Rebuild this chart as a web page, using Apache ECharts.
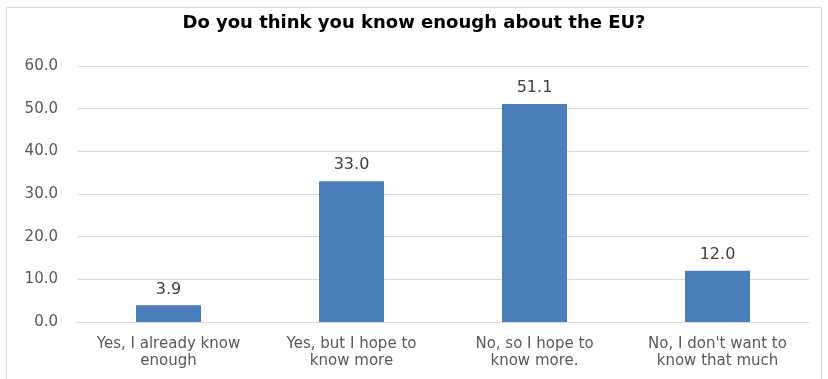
<!DOCTYPE html>
<html><head><meta charset="utf-8">
<script src="https://cdn.jsdelivr.net/npm/echarts@6/dist/echarts.min.js"></script>
<style>html,body{margin:0;padding:0;background:#fff}#c{width:828px;height:379px}</style>
</head><body><div id="c"></div>
<script>
const titleText = "Do you think you know enough about the EU?";
const categories = ["Yes, I already know\nenough", "Yes, but I hope to\nknow more", "No, so I hope to\nknow more.", "No, I don't want to\nknow that much"];
const values = [3.9, 33.0, 51.1, 12.0];
const yMin = 0, yMax = 60, yStep = 10;

const chart = echarts.init(document.getElementById('c'), null, {renderer: 'canvas'});
const font = "'DejaVu Sans', sans-serif";
chart.setOption({
  animation: false,
  graphic: [{type: 'rect', shape: {x: 6.5, y: 7.5, width: 815, height: 380}, style: {fill: 'none', stroke: '#d9d9d9', lineWidth: 1}}],
  title: {text: titleText, left: 'center', top: 9, textStyle: {fontFamily: font, fontSize: 18, fontWeight: 'bold', color: '#000'}},
  grid: {left: 77, right: 19, top: 66, bottom: 57},
  xAxis: {type: 'category', data: categories,
    axisLine: {lineStyle: {color: '#d9d9d9'}}, axisTick: {show: false},
    axisLabel: {fontFamily: font, fontSize: 15, color: '#595959', lineHeight: 17, margin: 14, interval: 0}},
  yAxis: {type: 'value', min: yMin, max: yMax, interval: yStep,
    axisLine: {show: false}, axisTick: {show: false},
    splitLine: {lineStyle: {color: '#d9d9d9'}},
    axisLabel: {fontFamily: font, fontSize: 15, color: '#595959', margin: 19, formatter: v => v.toFixed(1)}},
  series: [{type: 'bar', data: values, barWidth: 65, itemStyle: {color: '#4a7ebb'},
    label: {show: true, position: 'top', distance: 8, fontFamily: font, fontSize: 16, color: '#404040', formatter: p => p.value.toFixed(1)}}]
});
</script></body></html>
